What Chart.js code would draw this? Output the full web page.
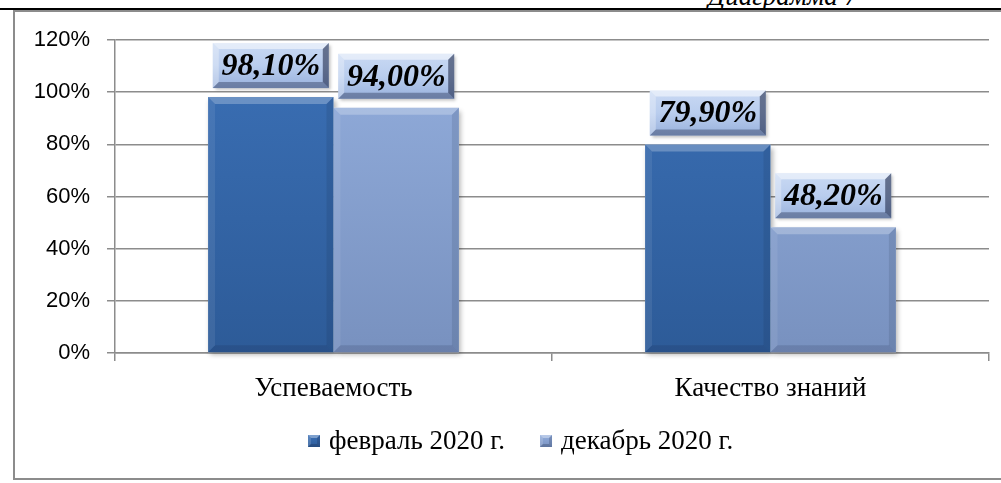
<!DOCTYPE html>
<html lang="ru">
<head>
<meta charset="utf-8">
<title>Диаграмма 7</title>
<script src="https://cdn.jsdelivr.net/npm/chart.js@4/dist/chart.umd.min.js"></script>
<style>
    html, body { margin: 0; padding: 0; background: #fff; }
    .page { position: relative; width: 1001px; height: 483px; overflow: hidden; }
    .doc-line { position: absolute; left: 0; top: 8px; width: 1001px; height: 2px; background: #000; }
    .doc-caption { position: absolute; left: 708px; top: -20px; font: italic 27px/32px 'Liberation Serif', serif; color: #000; }
    .frame { position: absolute; left: 13px; top: 10px; width: 1010px; height: 466px; border: 2px solid #8c8c8c; border-right: none; }
    canvas { position: absolute; left: 0; top: 0; }
</style>
</head>
<body>
<div class="page">
    <div class="doc-caption">Диаграмма 7</div>
    <div class="doc-line"></div>
    <div class="frame"></div>
    <canvas id="chart" width="1001" height="483"></canvas>
</div>
<script>
/* Успеваемость и качество знаний — февраль / декабрь 2020 */

const categories = ['Успеваемость', 'Качество знаний'];
const seriesNames = ['февраль 2020 г.', 'декабрь 2020 г.'];
const feb2020 = [98.1, 79.9];
const dec2020 = [94.0, 48.2];
const yTicks = [0, 20, 40, 60, 80, 100, 120];

const BAR_COLORS = [
    ['#3b70b6', '#2d5b98'],   // февраль: top, bottom
    ['#93aedd', '#7891bf'],   // декабрь
];
const GRID = '#8c8c8c';

const pct = v => v.toFixed(2).replace('.', ',') + '%';

function vGradient(ctx, top, bottom, c1, c2) {
    const g = ctx.createLinearGradient(0, top, 0, bottom);
    g.addColorStop(0, c1);
    g.addColorStop(1, c2);
    return g;
}

// bevel edges over a rectangle
function bevel(ctx, l, t, r, b, s, a) {
    const quads = [
        [[l, t], [r, t], [r - s, t + s], [l + s, t + s], `rgba(255,255,255,${a[0]})`],
        [[l, t], [l + s, t + s], [l + s, b - s], [l, b], `rgba(255,255,255,${a[1]})`],
        [[r, t], [r, b], [r - s, b - s], [r - s, t + s], `rgba(20,30,60,${a[2]})`],
        [[l, b], [r, b], [r - s, b - s], [l + s, b - s], `rgba(20,30,60,${a[3]})`],
    ];
    quads.forEach(q => {
        ctx.beginPath();
        ctx.moveTo(q[0][0], q[0][1]);
        for (let i = 1; i < 4; i++) ctx.lineTo(q[i][0], q[i][1]);
        ctx.closePath();
        ctx.fillStyle = q[4];
        ctx.fill();
    });
}

const bevelPlugin = {
    id: 'bevelBars',
    beforeDatasetsDraw(chart) {
        const ctx = chart.ctx;
        ctx.save();
        chart.data.datasets.forEach((ds, di) => {
            chart.getDatasetMeta(di).data.forEach(bar => {
                const w = bar.width;
                ctx.shadowColor = 'rgba(0,0,0,0.3)';
                ctx.shadowBlur = 5;
                ctx.shadowOffsetX = 2;
                ctx.shadowOffsetY = 3;
                ctx.fillStyle = '#ffffff';
                ctx.fillRect(bar.x - w / 2, bar.y, w, bar.base - bar.y);
            });
        });
        ctx.restore();
    },
    afterDatasetsDraw(chart) {
        const ctx = chart.ctx;
        ctx.save();
        chart.data.datasets.forEach((ds, di) => {
            chart.getDatasetMeta(di).data.forEach((bar, i) => {
                const l = bar.x - bar.width / 2, r = bar.x + bar.width / 2;
                bevel(ctx, l, bar.y, r, bar.base, 7, [0.25, 0.08, 0.12, 0.15]);

                // value label box
                const bw = 116, bh = 45;
                const bx = bar.x - bw / 2, by = bar.y - 9 - bh;
                ctx.shadowColor = 'rgba(0,0,0,0.25)';
                ctx.shadowBlur = 3;
                ctx.shadowOffsetX = 2;
                ctx.shadowOffsetY = 2;
                const g = ctx.createLinearGradient(0, by, 0, by + bh);
                g.addColorStop(0, '#c9d9f3');
                g.addColorStop(0.5, '#b9cdee');
                g.addColorStop(1, '#98b1dc');
                ctx.fillStyle = g;
                ctx.fillRect(bx, by, bw, bh);
                ctx.shadowColor = 'transparent';
                bevel(ctx, bx, by, bx + bw, by + bh, 6, [0.5, 0.3, 0.55, 0.35]);

                ctx.fillStyle = '#000';
                ctx.font = 'italic bold 32px "Liberation Serif", serif';
                ctx.textAlign = 'center';
                ctx.textBaseline = 'middle';
                ctx.fillText(pct(ds.data[i]), bar.x, by + bh / 2 + 1);
            });
        });
        ctx.restore();
    },
    afterDraw(chart) {
        // legend
        const ctx = chart.ctx;
        ctx.save();
        ctx.font = '27px "Liberation Serif", serif';
        ctx.textBaseline = 'middle';
        ctx.textAlign = 'left';
        let x = 308;
        const cy = 441;
        chart.data.datasets.forEach((ds, di) => {
            const s = 12;
            ctx.fillStyle = vGradient(ctx, cy - s / 2, cy + s / 2, BAR_COLORS[di][0], BAR_COLORS[di][1]);
            ctx.fillRect(x, cy - s / 2, s, s);
            bevel(ctx, x, cy - s / 2, x + s, cy + s / 2, 3, [0.35, 0.15, 0.2, 0.25]);
            x += s + 9;
            ctx.fillStyle = '#000';
            ctx.fillText(ds.label, x, cy + 1);
            x += ctx.measureText(ds.label).width + 35;
        });
        ctx.restore();
    },
};

const ctx = document.getElementById('chart').getContext('2d');
new Chart(ctx, {
    type: 'bar',
    data: {
        labels: categories,
        datasets: [feb2020, dec2020].map((values, di) => ({
            label: seriesNames[di],
            data: values,
            backgroundColor: c => {
                const a = c.chart.chartArea;
                if (!a) return BAR_COLORS[di][0];
                return vGradient(c.chart.ctx, a.top, a.bottom, BAR_COLORS[di][0], BAR_COLORS[di][1]);
            },
            borderWidth: 0,
            categoryPercentage: 0.574,
            barPercentage: 1,
        })),
    },
    options: {
        responsive: false,
        animation: false,
        events: [],
        layout: { padding: { left: 0, right: 12, top: 40, bottom: 0 } },
        plugins: { legend: { display: false }, tooltip: { enabled: false } },
        scales: {
            x: {
                grid: { offset: true, drawOnChartArea: false, tickLength: 8, color: GRID, lineWidth: 1.5 },
                border: { color: GRID, width: 1.5 },
                ticks: { color: '#000', font: { family: '"Liberation Serif", serif', size: 27 }, padding: 12 },
                afterFit: s => { s.height = 130; },
            },
            y: {
                min: 0,
                max: 120,
                afterBuildTicks: s => { s.ticks = yTicks.map(v => ({ value: v })); },
                grid: { color: GRID, lineWidth: 1.5, tickLength: 8 },
                border: { color: GRID, width: 1.5 },
                ticks: {
                    color: '#000',
                    font: { family: '"Liberation Sans", sans-serif', size: 22 },
                    padding: 17,
                    callback: v => v + '%',
                },
                afterFit: s => { s.width = 115; },
            },
        },
    },
    plugins: [bevelPlugin],
});
</script>
</body>
</html>
